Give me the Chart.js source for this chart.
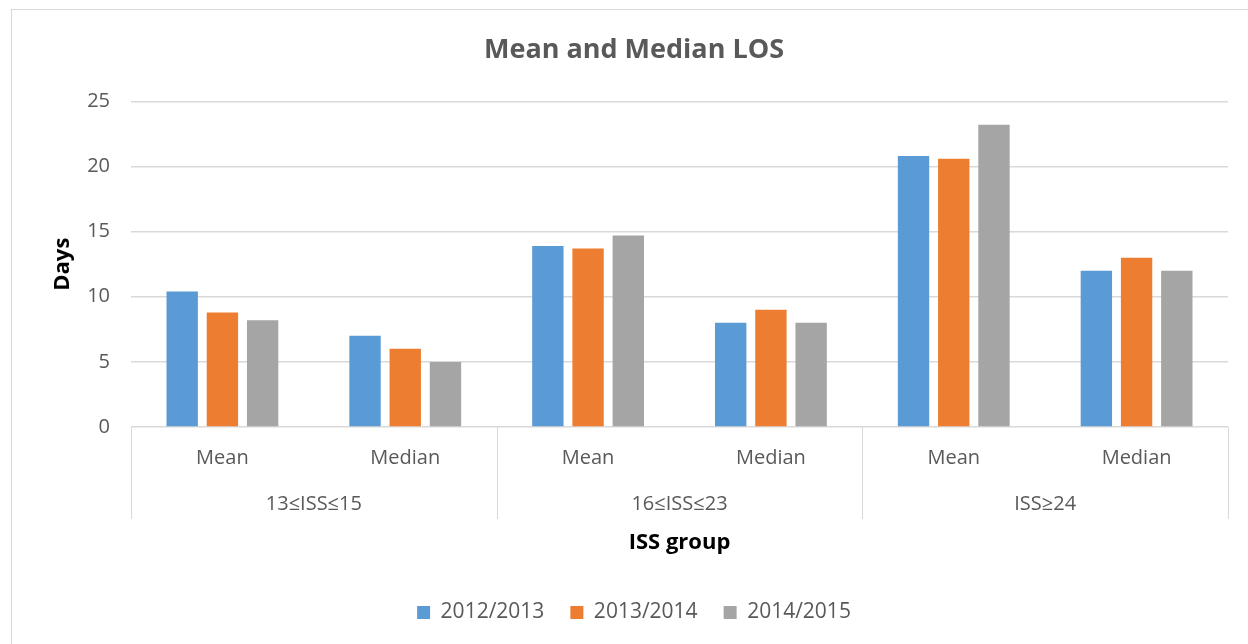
<!DOCTYPE html>
<html>
<head>
<meta charset="utf-8">
<title>Mean and Median LOS</title>
<script src="https://cdn.jsdelivr.net/npm/chart.js@4/dist/chart.umd.min.js"></script>
<style>
  html, body { margin: 0; padding: 0; background: #fff; overflow: hidden; }
  #wrap { position: relative; width: 1248px; height: 644px; }
  #frame { position: absolute; left: 11px; top: 9px; width: 1300px; height: 700px; border: 1px solid #d9d9d9; }
  canvas { position: absolute; left: 0; top: 0; }
</style>
</head>
<body>
<div id="wrap">
  <div id="frame"></div>
  <canvas id="losChart" width="1248" height="644"></canvas>
</div>
<script>
// categories (two levels)
const measures = ["Mean", "Median", "Mean", "Median", "Mean", "Median"];
const issGroups = ["13≤ISS≤15", "16≤ISS≤23", "ISS≥24"];

// series values (days)
const los2012 = [10.4, 7, 13.9, 8, 20.8, 12];
const los2013 = [8.8, 6, 13.7, 9, 20.6, 13];
const los2014 = [8.2, 5, 14.7, 8, 23.2, 12];

const yTicks = [0, 5, 10, 15, 20, 25];

const tickFont = { family: "'Open Sans', sans-serif", size: 20 };
const tickColor = "#595959";

// vertical separators between the ISS groups, from the plot bottom down past the group labels
const groupDividers = {
  id: "groupDividers",
  afterDraw(chart) {
    const x2 = chart.scales.x2;
    const ctx = chart.ctx;
    const top = chart.chartArea.bottom;
    const bottom = x2.top + 38;
    ctx.save();
    ctx.strokeStyle = "#d9d9d9";
    ctx.lineWidth = 1;
    for (let k = 0; k <= issGroups.length; k++) {
      const px = Math.round(x2.getPixelForValue(k - 0.5)) + 0.5;
      ctx.beginPath();
      ctx.moveTo(px, top);
      ctx.lineTo(px, bottom);
      ctx.stroke();
    }
    ctx.restore();
  },
};

new Chart(document.getElementById("losChart"), {
  type: "bar",
  data: {
    labels: measures,
    datasets: [
      { label: "2012/2013", data: los2012, backgroundColor: "#5B9BD5", xAxisID: "x" },
      { label: "2013/2014", data: los2013, backgroundColor: "#ED7D31", xAxisID: "x" },
      { label: "2014/2015", data: los2014, backgroundColor: "#A5A5A5", xAxisID: "x" },
    ],
  },
  options: {
    responsive: false,
    animation: false,
    layout: { padding: { left: 40, right: 20, top: 0, bottom: 11 } },
    datasets: { bar: { categoryPercentage: 0.66, barPercentage: 0.78 } },
    plugins: {
      title: {
        display: true,
        text: "Mean and Median LOS",
        color: "#595959",
        font: { family: "'Open Sans', sans-serif", size: 27, weight: "bold" },
        padding: { top: 34, bottom: 35 },
      },
      legend: {
        position: "bottom",
        labels: {
          color: tickColor,
          font: { family: "'Open Sans', sans-serif", size: 21 },
          boxWidth: 13,
          boxHeight: 13,
          padding: 26,
        },
      },
      tooltip: { enabled: false },
    },
    scales: {
      x: {
        position: "bottom",
        grid: { display: false },
        border: { display: false },
        ticks: { color: tickColor, font: tickFont, padding: 11, maxRotation: 0 },
        afterFit: (s) => { s.height = 54; },
      },
      x2: {
        type: "category",
        labels: issGroups,
        position: "bottom",
        offset: true,
        grid: { display: false },
        border: { display: false },
        ticks: { color: tickColor, font: tickFont, padding: 3, maxRotation: 0 },
        title: {
          display: true,
          text: "ISS group",
          color: "#000",
          font: { family: "'Open Sans', sans-serif", size: 22, weight: "bold" },
          padding: { top: 10, bottom: 20 },
        },
        afterFit: (s) => { s.height = 95; },
      },
      y: {
        min: 0,
        max: 25,
        afterBuildTicks: (s) => { s.ticks = yTicks.map((v) => ({ value: v })); },
        grid: { color: "#d9d9d9", lineWidth: 1.5, drawTicks: false },
        border: { display: false },
        ticks: { color: tickColor, font: tickFont, padding: 21 },
        title: {
          display: true,
          text: "Days",
          color: "#000",
          font: { family: "'Open Sans', sans-serif", size: 22, weight: "bold" },
          padding: { top: 10, bottom: 0 },
        },
        afterFit: (s) => { s.width = 91; },
      },
    },
  },
  plugins: [groupDividers],
});
</script>
</body>
</html>
